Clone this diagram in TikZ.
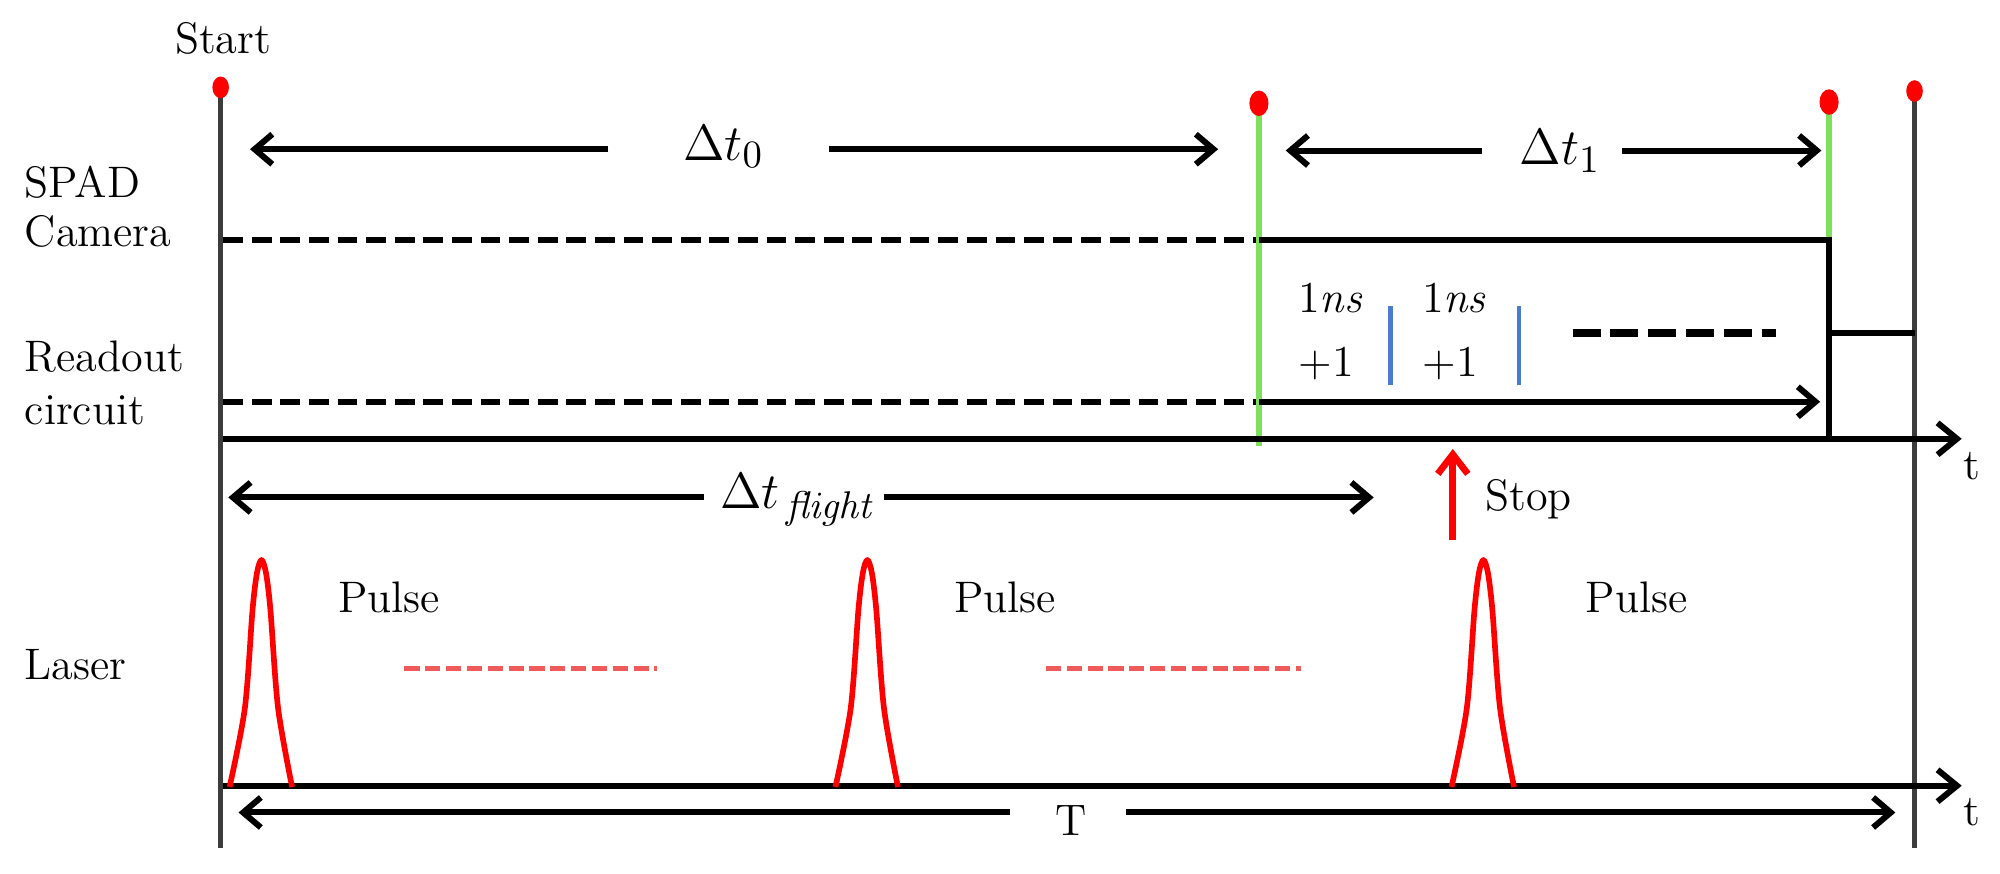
\documentclass[tikz,border=0pt]{standalone}
\usetikzlibrary{arrows.meta}
\definecolor{vgray}{HTML}{3C3C3C}
\definecolor{lgreen}{HTML}{7EE05C}
\definecolor{dashred}{HTML}{F05A5A}
\definecolor{sblue}{HTML}{4A7BD0}
\begin{document}
\begin{tikzpicture}[x=0.0127cm,y=-0.0127cm,
  lbl/.style={font=\fontsize{12.5}{15}\selectfont, inner sep=0pt, anchor=base west},
  ctr/.style={font=\fontsize{12.5}{15}\selectfont, inner sep=0pt, anchor=base},
  big/.style={font=\fontsize{15.5}{19}\selectfont, inner sep=0pt, anchor=base west},
  arr/.style={line width=1.7pt, -{Straight Barb[length=5pt,width=8.5pt]}},
  axisline/.style={line width=1.7pt, -{Straight Barb[length=5.5pt,width=9pt]}},
  vline/.style={line width=1.5pt, draw=vgray},
  gline/.style={line width=1.6pt, draw=lgreen},
  dline/.style={line width=1.7pt, dash pattern=on 5.6pt off 2.5pt},
  sline/.style={line width=1.7pt},
  pulse/.style={line width=1.6pt, draw=red, line join=round},
  rdash/.style={line width=1.4pt, draw=dashred, dash pattern=on 4.3pt off 1.6pt},
  bdash/.style={line width=2.4pt, dash pattern=on 7.9pt off 2.8pt},
  bbar/.style={line width=1.3pt, draw=sblue},
  stoparr/.style={line width=1.9pt, draw=red, -{Straight Barb[length=5.5pt,width=8.5pt]}}
]
\useasboundingbox (0,0) rectangle (1568,685);

% key coordinates
\coordinate (S0) at (173,68.5);
\coordinate (Sb) at (173,665);
\coordinate (E0) at (1501,71.4);
\coordinate (Eb) at (1501,665);
\coordinate (G1) at (987,81);
\coordinate (G1b) at (987,350);
\coordinate (G2) at (1434,80);
\coordinate (G2m) at (1434,188);
\coordinate (G2b) at (1434,344);
\coordinate (Cam0) at (175,188);
\coordinate (Cam1) at (987,188);
\coordinate (Rd0) at (175,315);
\coordinate (Rd1) at (987,315);
\coordinate (Rd2) at (1427,315);
\coordinate (Ax0) at (175,344);
\coordinate (Ax1) at (1538,344);
\coordinate (Bx0) at (175,616);
\coordinate (Bx1) at (1538,616);
\coordinate (Hs) at (1434,261);
\coordinate (He) at (1501,261);

% left labels
\node[lbl] (spad) at (19,155) {SPAD};
\node[lbl] (cam) at (19,193) {Camera};
\node[lbl] (rdo) at (19,291) {Readout};
\node[lbl] (circ) at (19,333) {circuit};
\node[lbl] (las) at (19,533) {Laser};
\node[ctr] (start) at (175,42) {Start};

% dashed lines before the first event
\draw[dline] (Cam0) -- (Cam1);
\draw[dline] (Rd0) -- (Rd1);

% vertical frame lines
\draw[vline] (S0) -- (Sb);
\draw[vline] (E0) -- (Eb);

% green event lines
\draw[gline] (G1) -- (G1b);
\draw[gline] (G2) -- (G2m);

% SPAD camera solid line and step
\draw[sline] (Cam1) -- (G2m) -- (G2b);
\draw[sline] (Hs) -- (He);

% readout arrow
\draw[arr] (Rd1) -- (Rd2);

% time axes
\draw[axisline] (Ax0) -- (Ax1);
\draw[axisline] (Bx0) -- (Bx1);
\node[ctr] (t1) at (1546,376) {t};
\node[ctr] (t2) at (1546,647) {t};

% dots
\fill[red] (S0) ellipse [x radius=6.5, y radius=8.5];
\fill[red] (G1) ellipse [x radius=7.5, y radius=10];
\fill[red] (G2) ellipse [x radius=7.5, y radius=10];
\fill[red] (E0) ellipse [x radius=6.5, y radius=8.5];

% Delta t0
\node[big] (d0) at (535,125.5) {$\Delta t_0$};
\coordinate (d0l) at (477,117);
\coordinate (d0lt) at (196,117);
\coordinate (d0r) at (650,117);
\coordinate (d0rt) at (955,117);
\draw[arr] (d0l) -- (d0lt);
\draw[arr] (d0r) -- (d0rt);

% Delta t1
\node[big] (d1) at (1191,129) {$\Delta t_1$};
\coordinate (d1l) at (1162,118);
\coordinate (d1lt) at (1008,118);
\coordinate (d1r) at (1272,118);
\coordinate (d1rt) at (1428,118);
\draw[arr] (d1l) -- (d1lt);
\draw[arr] (d1r) -- (d1rt);

% counter annotations
\node[ctr] (ns1) at (1043,245) {1\textit{ns}};
\node[ctr] (p1) at (1040,295) {+1};
\node[ctr] (ns2) at (1140,245) {1\textit{ns}};
\node[ctr] (p2) at (1137,295) {+1};
\coordinate (b1t) at (1090,240);
\coordinate (b1b) at (1090,302);
\coordinate (b2t) at (1191,240);
\coordinate (b2b) at (1191,302);
\draw[bbar] (b1t) -- (b1b);
\draw[bbar] (b2t) -- (b2b);
\coordinate (k0) at (1233,261);
\coordinate (k1) at (1392,261);
\draw[bdash] (k0) -- (k1);

% Delta t flight
\node[big] (df) at (564,399) {$\Delta t_{\,\mathit{flight}}$};
\coordinate (dfl) at (552,390);
\coordinate (dflt) at (179,390);
\coordinate (dfr) at (693,390);
\coordinate (dfrt) at (1077,390);
\draw[arr] (dfl) -- (dflt);
\draw[arr] (dfr) -- (dfrt);

% Stop
\coordinate (st0) at (1139,423);
\coordinate (st1) at (1139,352);
\draw[stoparr] (st0) -- (st1);
\node[lbl] (stop) at (1164,400) {Stop};

% pulses
\foreach \c in {205,680,1163}{
  \draw[pulse] plot[smooth] coordinates {(\c-25,617) (\c-13,555) (\c-7,478) (\c-3.5,449) (\c,439) (\c+3.5,449) (\c+7,478) (\c+13,555) (\c+24,617)};
}
\node[ctr] (pl1) at (305,480) {Pulse};
\node[ctr] (pl2) at (788,480) {Pulse};
\node[ctr] (pl3) at (1283,480) {Pulse};
\coordinate (r1a) at (317,524);
\coordinate (r1b) at (515,524);
\coordinate (r2a) at (820,524);
\coordinate (r2b) at (1020,524);
\draw[rdash] (r1a) -- (r1b);
\draw[rdash] (r2a) -- (r2b);

% period T
\node[ctr] (T) at (840,655) {T};
\coordinate (tl) at (792,637);
\coordinate (tlt) at (187,637);
\coordinate (tr) at (883,637);
\coordinate (trt) at (1486,637);
\draw[arr] (tl) -- (tlt);
\draw[arr] (tr) -- (trt);
\end{tikzpicture}
\end{document}
